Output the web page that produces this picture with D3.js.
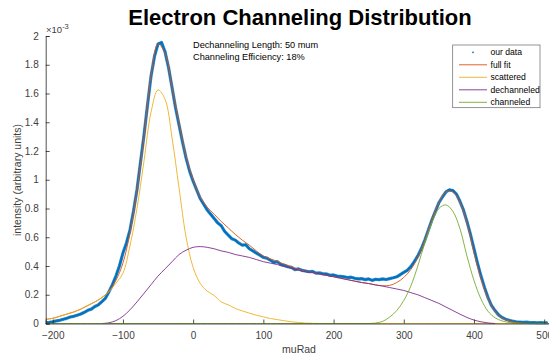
<!DOCTYPE html>
<html><head><meta charset="utf-8">
<script src="https://cdn.jsdelivr.net/npm/d3@7/dist/d3.min.js"></script>
<style>body{margin:0;background:#fff}svg{display:block;font-family:"Liberation Sans",Arial,sans-serif}</style>
</head><body><svg id="c" width="549" height="355"></svg>
<script>
// ---- data (intensity in units of 1e-3) ----
const dataX = d3.range(-210, 506, 5);
const dataY = [0.005,0.008,0.012,0.018,0.022,0.030,0.036,0.045,0.050,0.058,0.066,0.078,0.092,0.100,0.118,0.130,0.152,0.175,0.220,0.270,0.330,0.400,0.490,0.560,0.650,0.780,0.930,1.120,1.310,1.520,1.720,1.860,1.945,1.955,1.890,1.780,1.640,1.500,1.380,1.260,1.150,1.060,0.990,0.930,0.870,0.830,0.790,0.760,0.730,0.700,0.680,0.640,0.615,0.590,0.580,0.560,0.545,0.548,0.520,0.505,0.490,0.475,0.460,0.455,0.440,0.425,0.430,0.410,0.405,0.395,0.390,0.375,0.380,0.370,0.365,0.360,0.362,0.350,0.352,0.345,0.345,0.335,0.338,0.330,0.328,0.325,0.320,0.322,0.315,0.310,0.312,0.305,0.310,0.300,0.308,0.305,0.310,0.306,0.312,0.318,0.325,0.340,0.355,0.370,0.395,0.430,0.470,0.520,0.580,0.650,0.720,0.780,0.840,0.880,0.915,0.930,0.925,0.900,0.850,0.790,0.710,0.620,0.520,0.420,0.330,0.250,0.180,0.125,0.090,0.060,0.042,0.030,0.022,0.016,0.012,0.010,0.008,0.009,0.006,0.007,0.005,0.006,0.004,0.005];
const fitX = d3.range(-210, 511, 10);
const fullFit = [0.030,0.036,0.050,0.065,0.080,0.100,0.125,0.150,0.180,0.225,0.300,0.420,0.630,0.930,1.300,1.720,1.945,1.880,1.640,1.390,1.160,1.000,0.880,0.810,0.760,0.710,0.665,0.620,0.580,0.545,0.505,0.470,0.450,0.432,0.412,0.395,0.377,0.363,0.356,0.345,0.335,0.325,0.315,0.305,0.295,0.285,0.278,0.268,0.263,0.265,0.285,0.320,0.375,0.460,0.580,0.720,0.840,0.915,0.915,0.845,0.702,0.494,0.312,0.174,0.085,0.040,0.018,0.007,0.002,0,0,0,0];
const scattered = [0.030,0.036,0.050,0.065,0.080,0.100,0.125,0.150,0.180,0.220,0.280,0.350,0.540,0.800,1.130,1.470,1.625,1.560,1.290,0.940,0.600,0.390,0.280,0.225,0.195,0.150,0.130,0.105,0.088,0.072,0.058,0.046,0.035,0.027,0.019,0.012,0.007,0.003,0.001,0,0,0,0,0,0,0,0,0,0,0,0,0,0,0,0,0,0,0,0,0,0,0,0,0,0,0,0,0,0,0,0,0,0];
const dechX = d3.range(-130, 431, 10);
const dechanneled = [0,0.005,0.020,0.050,0.095,0.150,0.210,0.270,0.330,0.380,0.430,0.480,0.510,0.530,0.535,0.530,0.520,0.505,0.495,0.480,0.470,0.460,0.445,0.430,0.420,0.410,0.395,0.385,0.370,0.360,0.355,0.345,0.335,0.325,0.315,0.305,0.295,0.285,0.278,0.268,0.260,0.250,0.240,0.230,0.215,0.200,0.180,0.160,0.140,0.115,0.090,0.065,0.042,0.024,0.012,0.004,0];
const channeled = [0,0,0,0,0,0,0,0,0,0,0,0,0,0,0,0,0,0,0,0,0,0,0,0,0,0,0,0,0,0,0,0,0,0,0,0,0,0,0,0,0,0,0,0,0,0,0,0.003,0.015,0.045,0.090,0.160,0.260,0.400,0.560,0.700,0.800,0.825,0.780,0.660,0.470,0.300,0.170,0.085,0.040,0.018,0.007,0.002,0,0,0,0,0];
const xTicks = [-200,-100,0,100,200,300,400,500];
const yTicks = [0,0.2,0.4,0.6,0.8,1,1.2,1.4,1.6,1.8,2];
const legendLabels = ["our data","full fit","scattered","dechanneled","channeled"];
const colors = ["#0072BD","#D95319","#EDB120","#7E2F8E","#77AC30"];

const svg = d3.select("#c");
const x = d3.scaleLinear().domain([-210, 510]).range([45.7, 551.2]);
const y = d3.scaleLinear().domain([0, 2]).range([323.5, 36]);
const axCol = "#262626";

// plot lines
svg.append("clipPath").attr("id","cp").append("rect")
  .attr("x", x(-210)).attr("y", 0).attr("width", 549).attr("height", y(0)+1);
const g = svg.append("g").attr("clip-path","url(#cp)");
const line = d3.line().x(d=>x(d[0])).y(d=>y(d[1])).curve(d3.curveCatmullRom);
const dataPts = dataX.map((v,i)=>[v,dataY[i]]);
const dLine = d3.line().x(d=>x(d[0])).y(d=>y(d[1]));
g.append("path").attr("d", dLine(dataPts))
  .attr("fill","none").attr("stroke","#3d8fd0").attr("stroke-width",3.2).attr("stroke-linejoin","round");
g.append("path").attr("d", dLine(dataPts))
  .attr("fill","none").attr("stroke",colors[0]).attr("stroke-width",2).attr("stroke-linejoin","round");
const series = [[fitX, fullFit],[fitX, scattered],[dechX, dechanneled],[fitX, channeled]];
series.forEach((s,k)=>{
  g.append("path").attr("d", line(s[0].map((v,i)=>[v,s[1][i]])))
   .attr("fill","none").attr("stroke",colors[k+1]).attr("stroke-width",0.9);
});

// axes
const xa = svg.append("g").attr("transform",`translate(0,${y(0)})`)
  .call(d3.axisBottom(x).tickValues(xTicks).tickSize(-4).tickPadding(8).tickFormat(d3.format("d")));
const ya = svg.append("g").attr("transform",`translate(${x(-210)},0)`)
  .call(d3.axisLeft(y).tickValues(yTicks).tickSize(-4).tickPadding(7).tickFormat(d=>String(+d.toFixed(1))));
[xa, ya].forEach(a=>{
  a.select(".domain").attr("stroke",axCol).attr("stroke-width",0.8);
  a.selectAll(".tick line").attr("stroke",axCol).attr("stroke-width",0.8);
  a.selectAll(".tick text").attr("fill","#404040").attr("font-size",10).attr("font-family","Liberation Sans, Arial");
});

// exponent
const ex = svg.append("text").attr("x",46).attr("y",33).attr("fill","#404040").attr("font-size",9.5);
ex.append("tspan").text("\u00d710");
ex.append("tspan").attr("dy",-4).attr("font-size",7.5).text("-3");

// title
svg.append("text").attr("x",300).attr("y",25).attr("text-anchor","middle")
  .attr("font-size",22).attr("font-weight","bold").attr("fill","#000").text("Electron Channeling Distribution");

// labels
svg.append("text").attr("x",299).attr("y",353).attr("text-anchor","middle")
  .attr("font-size",10.5).attr("fill","#404040").text("muRad");
svg.append("text").attr("transform","translate(21,180) rotate(-90)").attr("text-anchor","middle")
  .attr("font-size",10.5).attr("fill","#404040").text("intensity (arbitrary units)");

// annotation
svg.append("text").attr("x",193).attr("y",48).attr("font-size",9.2).attr("fill","#000").text("Dechanneling Length: 50 mum");
svg.append("text").attr("x",193).attr("y",59.5).attr("font-size",9.2).attr("fill","#000").text("Channeling Efficiency: 18%");

// legend
const lg = svg.append("g");
lg.append("rect").attr("x",452.7).attr("y",45).attr("width",87.3).attr("height",62.7)
  .attr("fill","#fff").attr("stroke","#666").attr("stroke-width",0.7);
legendLabels.forEach((t,i)=>{
  const yy = 52.3 + i*12.5;
  if(i===0){
    lg.append("circle").attr("cx",473).attr("cy",yy).attr("r",0.9).attr("fill",colors[0]);
  } else {
    lg.append("line").attr("x1",459).attr("x2",487).attr("y1",yy).attr("y2",yy)
      .attr("stroke",colors[i]).attr("stroke-width",0.9);
  }
  lg.append("text").attr("x",490.5).attr("y",yy+3).attr("font-size",8.6).attr("fill","#000").text(t);
});
</script></body></html>
